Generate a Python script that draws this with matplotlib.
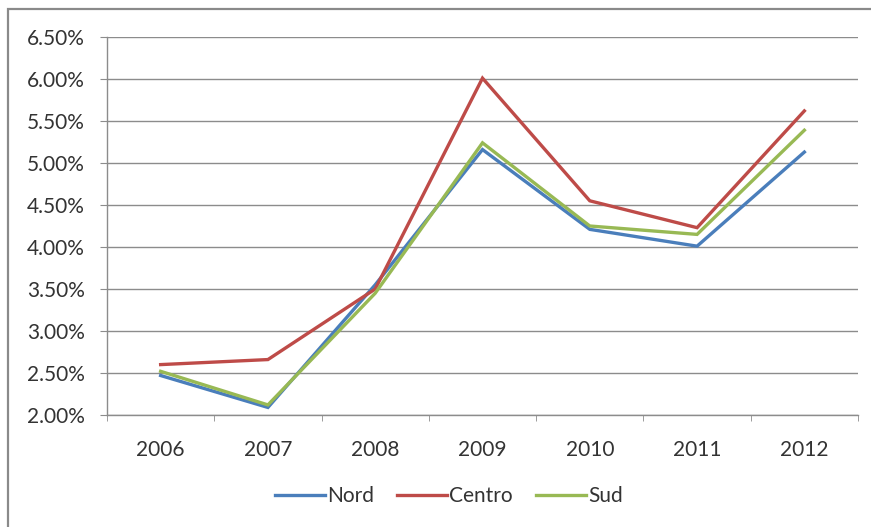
import matplotlib
matplotlib.use('Agg')
import matplotlib.pyplot as plt
from matplotlib.patches import Rectangle
from matplotlib.ticker import FixedLocator, FuncFormatter

years = ['2006', '2007', '2008', '2009', '2010', '2011', '2012']
nord = [2.47, 2.09, 3.55, 5.16, 4.21, 4.01, 5.13]
centro = [2.60, 2.66, 3.50, 6.01, 4.55, 4.23, 5.62]
sud = [2.52, 2.12, 3.45, 5.24, 4.25, 4.15, 5.39]
y_ticks = [2.0, 2.5, 3.0, 3.5, 4.0, 4.5, 5.0, 5.5, 6.0, 6.5]

plt.rcParams['font.family'] = ['Lato', 'DejaVu Sans']

W, H = 871, 527
GRID = '#8c8c8c'
TEXT = '#333333'
FS = 15


def main():
    fig = plt.figure(figsize=(W / 100, H / 100), dpi=100)
    fig.patch.set_facecolor('white')

    # chart frame, runs off the right and bottom edges
    fig.add_artist(Rectangle((8 / W, -0.05), 1.1, 1 - 9 / H + 0.05,
                             transform=fig.transFigure, fill=False,
                             edgecolor='#8a8a8a', linewidth=1.6, clip_on=False))

    left, right, top, bottom = 107, 858, 37, 415
    ax = fig.add_axes([left / W, 1 - bottom / H, (right - left) / W, (bottom - top) / H])

    x = range(len(years))
    ax.plot(x, nord, color='#4a7ebb', lw=2.4, label='Nord', solid_joinstyle='miter')
    ax.plot(x, centro, color='#be4b48', lw=2.4, label='Centro', solid_joinstyle='miter')
    ax.plot(x, sud, color='#98b954', lw=2.4, label='Sud', solid_joinstyle='miter')

    ax.set_xlim(-0.5, len(years) - 0.5)
    ax.set_ylim(2.0, 6.5)
    ax.set_yticks(y_ticks)
    ax.yaxis.set_major_formatter(FuncFormatter(lambda v, _: f'{v:.2f}%'))
    ax.set_xticks(list(x))
    ax.set_xticklabels(years)
    ax.xaxis.set_minor_locator(FixedLocator([i - 0.5 for i in range(len(years) + 1)]))

    ax.grid(axis='y', color=GRID, linewidth=1.0)
    ax.set_axisbelow(True)
    for side in ('top', 'right'):
        ax.spines[side].set_visible(False)
    for side in ('left', 'bottom'):
        ax.spines[side].set_color(GRID)
        ax.spines[side].set_linewidth(1.0)

    ax.tick_params(axis='y', length=5, color=GRID, pad=11, labelsize=FS, labelcolor=TEXT)
    ax.tick_params(axis='x', which='major', length=0, pad=18, labelsize=FS, labelcolor=TEXT)
    ax.tick_params(axis='x', which='minor', length=4, color=GRID)

    fig.legend(loc='center', bbox_to_anchor=(449 / W, 1 - 496 / H), ncol=3,
               frameon=False, fontsize=FS, handlelength=2.4, handletextpad=0.1,
               columnspacing=1.1, labelcolor=TEXT)

    fig.savefig('out.png', dpi=100, facecolor='white')
    plt.close(fig)


if __name__ == '__main__':
    main()
